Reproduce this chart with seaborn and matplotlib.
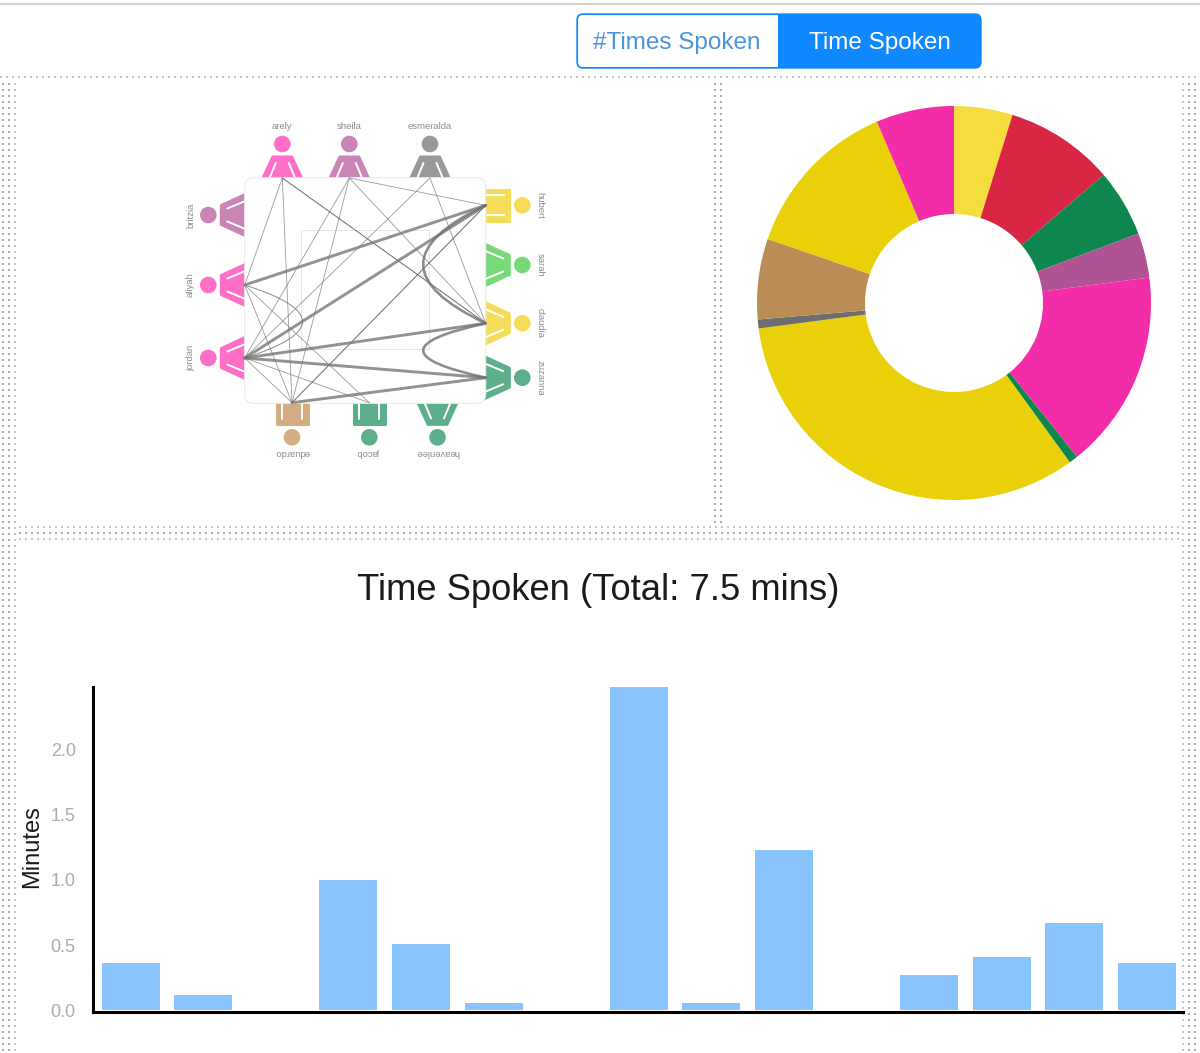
import numpy as np
import matplotlib
matplotlib.use('Agg')
import matplotlib.pyplot as plt
import seaborn as sns
from matplotlib.patches import Circle, FancyBboxPatch, PathPatch, Polygon, Rectangle
from matplotlib.path import Path

# Chart values
bar_speakers = ['s01', 's02', 's03', 's04', 's05', 's06', 's07', 's08',
                's09', 's10', 's11', 's12', 's13', 's14', 's15']
bar_minutes = [0.36, 0.115, 0.0, 1.0, 0.51, 0.055, 0.0, 2.485,
               0.055, 1.23, 0.0, 0.27, 0.41, 0.67, 0.36]
slice_minutes = [0.36, 0.67, 0.415, 0.275, 1.225, 0.055, 2.47, 0.055, 0.495, 1.0, 0.48]
slice_colors = ['#F5DD3D', '#D92645', '#0E874E', '#B05394', '#F32CA8', '#0E874E',
                '#E9D009', '#6E6E6E', '#BA8D57', '#E9D009', '#F32CA8']
y_ticks = [0.0, 0.5, 1.0, 1.5, 2.0]

# Who talked to whom, and how heavy the line is
thin_edges = [('arely', 'aliyah'), ('arely', 'eduardo'), ('sheila', 'jordan'),
              ('sheila', 'eduardo'), ('sheila', 'hubert'), ('sheila', 'claudia'),
              ('esmeralda', 'jordan'), ('esmeralda', 'claudia'), ('aliyah', 'eduardo'),
              ('aliyah', 'jacob'), ('jordan', 'eduardo'), ('jordan', 'jacob')]
mid_edges = [('arely', 'claudia'), ('hubert', 'eduardo')]
thick_edges = [('aliyah', 'hubert'), ('jordan', 'hubert'), ('jordan', 'claudia'),
               ('jordan', 'zuzanna'), ('zuzanna', 'eduardo')]
curved_edges = [('aliyah', 'jordan', 1.0), ('hubert', 'claudia', 2.6), ('claudia', 'zuzanna', 2.6)]

# Layout of the people: name, head x, head y, side, shape, colour
people = [('arely', 282.3, 144, 'top', 'f', '#FF6EC7'),
          ('sheila', 349.3, 144, 'top', 'f', '#C985B5'),
          ('esmeralda', 430, 144, 'top', 'f', '#999999'),
          ('hubert', 522.3, 205.3, 'right', 'm', '#F5DC5A'),
          ('sarah', 522.3, 265, 'right', 'f', '#77D977'),
          ('claudia', 522.3, 323.3, 'right', 'f', '#F5DC5A'),
          ('zuzanna', 522.3, 377.7, 'right', 'f', '#5DAE8B'),
          ('eduardo', 292, 437.3, 'bottom', 'm', '#D2AE82'),
          ('jacob', 369.3, 437.3, 'bottom', 'm', '#5DAE8B'),
          ('heavenlee', 437.5, 437.3, 'bottom', 'f', '#5DAE8B'),
          ('britzia', 208.3, 215, 'left', 'f', '#C985B5'),
          ('aliyah', 208.3, 285, 'left', 'f', '#FF6EC7'),
          ('jordan', 208.3, 358, 'left', 'f', '#FF6EC7')]

W, H = 1200, 1053
FONT = 'Liberation Sans'
LABEL_GRAY = '#8c8c8c'
sns.set_theme(style = 'white')
plt.rcParams['font.family'] = [FONT, 'DejaVu Sans']

fig = plt.figure(figsize = (W / 100, H / 100), dpi = 100, facecolor = 'white')

# Whole-figure axes in pixels for the page furniture
page = fig.add_axes([0, 0, 1, 1])
page.set_xlim(0, W)
page.set_ylim(H, 0)
page.axis('off')

def px_axes(x0, y0, x1, y1):
  return fig.add_axes([x0 / W, 1 - y1 / H, (x1 - x0) / W, (y1 - y0) / H])

# Dotted panel borders
def dots(xs, ys, color = '#ababab'):
  xx, yy = np.meshgrid(xs, ys)
  page.scatter(xx.ravel(), yy.ravel(), s = 1.1, marker = 's', color = color, linewidths = 0)

for x, c in [(3, '#ababab'), (9, '#ababab'), (15, '#c8c8c8')]:
  dots([x], np.arange(84, H, 6), c)
for x in [715, 721]:
  dots([x], np.arange(84, 524, 6))
for x, c in [(1183, '#c8c8c8'), (1189, '#ababab'), (1195, '#ababab')]:
  dots([x], np.arange(84, H, 6), c)
dots(np.arange(1, W, 6), [77], '#c4c4c4')
for y, c in [(527, '#c8c8c8'), (533, '#ababab'), (538.5, '#c8c8c8')]:
  dots(np.arange(20, 1180, 6), [y], c)

# Header line and the toggle
page.plot([0, W], [4, 4], color = '#d4d4d4', lw = 1.6)
toggle_blue = '#1088FF'
page.add_patch(FancyBboxPatch((577, 14), 404, 54, boxstyle = 'round,pad=0,rounding_size=6',
  facecolor = toggle_blue, edgecolor = toggle_blue, lw = 1))
page.add_patch(FancyBboxPatch((578, 15), 210, 52, boxstyle = 'round,pad=0,rounding_size=5',
  facecolor = 'white', edgecolor = 'none'))
page.add_patch(Rectangle((778, 15), 14, 52, facecolor = toggle_blue, edgecolor = 'none'))
page.text(677, 42.5, '#Times Spoken', color = '#4A94DC', fontsize = 17.5, ha = 'center', va = 'center')
page.text(880, 42.5, 'Time Spoken', color = 'white', fontsize = 17.5, ha = 'center', va = 'center')

# Person icons, built along the direction from head to body
def place(x, y, side, pts):
  out = []
  for across, depth in pts:
    if side == 'top':
      out.append((x + across, y + depth))
    elif side == 'bottom':
      out.append((x - across, y - depth))
    elif side == 'left':
      out.append((x + depth, y - across))
    else:
      out.append((x - depth, y + across))
  return out

anchors = {}
for name, x, y, side, shape, color in people:
  page.add_patch(Circle((x, y), 8.3, facecolor = color, edgecolor = 'none'))
  if shape == 'f':
    body = [(-9.5, 13), (9.5, 13), (21, 38), (-21, 38)]
    marks = [[(-6.5, 19), (-14, 37)], [(6.5, 19), (14, 37)]]
  else:
    body = [(-15.5, 13.5), (15.5, 13.5), (15.5, 38), (-15.5, 38)]
    marks = [[(-10, 18), (-10, 38)], [(10, 18), (10, 38)]]
  page.add_patch(Polygon(place(x, y, side, body), closed = True, facecolor = color,
    edgecolor = color, lw = 2.2, joinstyle = 'round'))
  for m in marks:
    p = place(x, y, side, m)
    page.plot([p[0][0], p[1][0]], [p[0][1], p[1][1]], color = 'white', lw = 1.4)
  if side == 'top':
    page.text(x, 126.5, name, rotation = 0, ha = 'center', va = 'center', fontsize = 6.8, color = LABEL_GRAY)
    anchors[name] = (x, 178)
  elif side == 'bottom':
    page.text(x, 453, name, rotation = 180, ha = 'center', va = 'center', fontsize = 6.8, color = LABEL_GRAY)
    anchors[name] = (x, 402.7)
  elif side == 'left':
    page.text(190.5, y, name, rotation = 90, ha = 'center', va = 'center', fontsize = 6.8, color = LABEL_GRAY)
    anchors[name] = (244.7, y)
  else:
    page.text(540, y, name, rotation = -90, ha = 'center', va = 'center', fontsize = 6.8, color = LABEL_GRAY)
    anchors[name] = (485.7, y)

# White card holding the network
page.add_patch(FancyBboxPatch((244.7, 177.7), 241, 225.6, boxstyle = 'round,pad=0,rounding_size=9',
  facecolor = 'white', edgecolor = '#ececec', lw = 0.8, zorder = 3))
page.add_patch(Rectangle((301.3, 230), 128, 119.3, facecolor = 'none', edgecolor = '#e6e6e6',
  lw = 0.7, zorder = 3))

def edge(a, b, lw, color, alpha):
  (x0, y0), (x1, y1) = anchors[a], anchors[b]
  page.plot([x0, x1], [y0, y1], color = color, lw = lw, alpha = alpha, zorder = 4,
    solid_capstyle = 'round')

for a, b in thin_edges:
  edge(a, b, 0.6, '#707070', 0.7)
for a, b in mid_edges:
  edge(a, b, 0.7, '#505050', 0.85)
for a, b in thick_edges:
  edge(a, b, 2.1, '#777777', 0.8)
for a, b, lw in curved_edges:
  (x0, y0), (x1, y1) = anchors[a], anchors[b]
  ctrl = (360.5, (y0 + y1) / 2)
  page.add_patch(PathPatch(Path([(x0, y0), ctrl, (x1, y1)], [Path.MOVETO, Path.CURVE3, Path.CURVE3]),
    facecolor = 'none', edgecolor = '#707070', lw = lw * 0.72, alpha = 0.8, zorder = 4))

# Donut
ax_pie = px_axes(954 - 197, 303 - 197, 954 + 197, 303 + 197)
ax_pie.pie(slice_minutes, colors = slice_colors, startangle = 90, counterclock = False, radius = 1,
  wedgeprops = {'width': 108 / 197, 'linewidth': 0})
ax_pie.set_xlim(-1, 1)
ax_pie.set_ylim(-1, 1)
ax_pie.patch.set_alpha(0)

# Bars
page.text(598.5, 590, 'Time Spoken (Total: 7.5 mins)', color = '#1a1a1a', fontsize = 26.2,
  ha = 'center', va = 'center')
ax_bar = px_axes(93, 686.5, 1183, 1011.6)
ax_bar.patch.set_alpha(0)
sns.barplot(x = bar_speakers, y = bar_minutes, color = '#8AC4FF', saturation = 1, linewidth = 0, ax = ax_bar)
ax_bar.set_xlim(-0.52, 14.5)
ax_bar.set_ylim(-0.012, 2.488)
ax_bar.set_yticks(y_ticks)
ax_bar.set_yticklabels([f'{t:.1f}' for t in y_ticks], color = '#ababab', fontsize = 13)
ax_bar.set_xticks([])
ax_bar.tick_params(axis = 'y', length = 0, pad = 12.5)
ax_bar.set_ylabel('Minutes', color = '#1a1a1a', fontsize = 17, labelpad = 5, y = 0.508)
sns.despine(ax = ax_bar)
for s in ['left', 'bottom']:
  ax_bar.spines[s].set_linewidth(2.2)
  ax_bar.spines[s].set_color('black')

fig.savefig('out.png', dpi = 100)
